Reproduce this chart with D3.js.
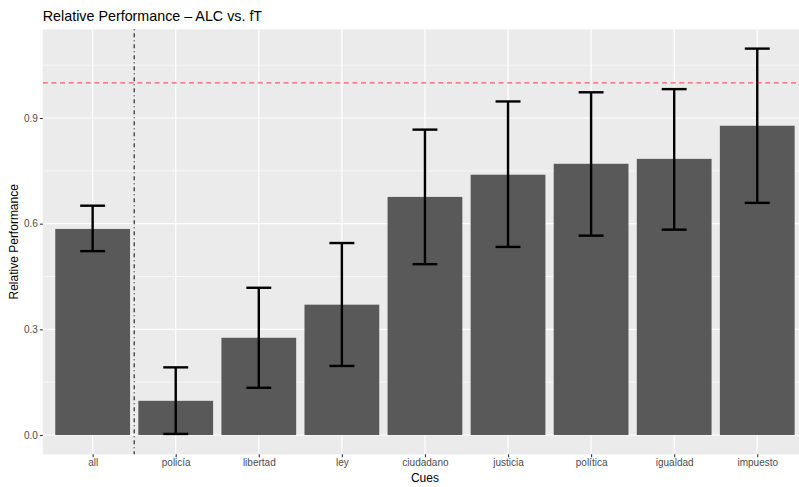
<!DOCTYPE html>
<html>
<head>
<meta charset="utf-8">
<script src="https://cdn.jsdelivr.net/npm/d3@7"></script>
<style>
  html, body { margin: 0; padding: 0; background: #fff; }
  svg { display: block; font-family: "Liberation Sans", Arial, sans-serif; }
</style>
</head>
<body>
<svg id="chart" width="799" height="487"></svg>
<script>
// Cue categories, in plotting order
const cues = ["all", "policía", "libertad", "ley", "ciudadano", "justicia", "política", "igualdad", "impuesto"];
// Mean relative performance per cue
const performance = [0.585, 0.097, 0.276, 0.370, 0.676, 0.739, 0.770, 0.784, 0.878];
// Error bar bounds
const lower = [0.522, 0.003, 0.134, 0.196, 0.485, 0.534, 0.566, 0.583, 0.659];
const upper = [0.651, 0.192, 0.418, 0.545, 0.867, 0.947, 0.973, 0.982, 1.097];
// Reference level and y-axis ticks
const referenceLevel = 1.0;
const yTicks = [0.0, 0.3, 0.6, 0.9];
const yMinorTicks = [0.15, 0.45, 0.75, 1.05];

const rows = cues.map((c, i) => ({ cue: c, value: performance[i], lo: lower[i], hi: upper[i] }));

const svg = d3.select("#chart");
const panel = { left: 42.8, top: 29.3, width: 764.3, height: 425 };

// y scale with 5% expansion on the data range
const yMaxData = d3.max(upper);
const yMinData = 0;
const pad = (yMaxData - yMinData) * 0.05;
const y = d3.scaleLinear()
  .domain([yMinData - pad, yMaxData + pad])
  .range([panel.top + panel.height, panel.top]);

const x = d3.scalePoint()
  .domain(cues)
  .range([panel.left, panel.left + panel.width])
  .padding(0.6);
const step = x.step();
const barW = step * 0.9;
const capW = step * 0.3;

// Panel background
svg.append("rect")
  .attr("x", panel.left).attr("y", panel.top)
  .attr("width", panel.width).attr("height", panel.height)
  .attr("fill", "#EBEBEB");

const grid = svg.append("g");
grid.selectAll("line.minor").data(yMinorTicks).join("line")
  .attr("x1", panel.left).attr("x2", panel.left + panel.width)
  .attr("y1", d => y(d)).attr("y2", d => y(d))
  .attr("stroke", "#fff").attr("stroke-width", 0.6);
grid.selectAll("line.major").data(yTicks).join("line")
  .attr("x1", panel.left).attr("x2", panel.left + panel.width)
  .attr("y1", d => y(d)).attr("y2", d => y(d))
  .attr("stroke", "#fff").attr("stroke-width", 1.2);
grid.selectAll("line.vert").data(cues).join("line")
  .attr("x1", d => x(d)).attr("x2", d => x(d))
  .attr("y1", panel.top).attr("y2", panel.top + panel.height)
  .attr("stroke", "#fff").attr("stroke-width", 1.2);

// Bars
svg.append("g").selectAll("rect").data(rows).join("rect")
  .attr("x", d => x(d.cue) - barW / 2)
  .attr("width", barW)
  .attr("y", d => y(d.value))
  .attr("height", d => y(0) - y(d.value))
  .attr("fill", "#595959");

// Error bars
const eb = svg.append("g").attr("stroke", "#000").attr("stroke-width", 2.4).attr("fill", "none");
rows.forEach(d => {
  const cx = x(d.cue);
  eb.append("line").attr("x1", cx).attr("x2", cx).attr("y1", y(d.lo)).attr("y2", y(d.hi));
  eb.append("line").attr("x1", cx - capW / 2).attr("x2", cx + capW / 2).attr("y1", y(d.hi)).attr("y2", y(d.hi));
  eb.append("line").attr("x1", cx - capW / 2).attr("x2", cx + capW / 2).attr("y1", y(d.lo)).attr("y2", y(d.lo));
});

// Reference line at 1.0
svg.append("line")
  .attr("x1", panel.left).attr("x2", panel.left + panel.width)
  .attr("y1", y(referenceLevel)).attr("y2", y(referenceLevel))
  .attr("stroke", "rgba(255,0,0,0.6)").attr("stroke-width", 1.3)
  .attr("stroke-dasharray", "5,3.6");

// Divider between the overall cue and the individual cues
const divX = (x(cues[0]) + x(cues[1])) / 2;
svg.append("line")
  .attr("x1", divX).attr("x2", divX)
  .attr("y1", panel.top).attr("y2", panel.top + panel.height)
  .attr("stroke", "#000").attr("stroke-width", 1)
  .attr("stroke-dasharray", "1,3,4,3");

// Y axis
const yAxis = svg.append("g")
  .attr("transform", `translate(${panel.left},0)`)
  .call(d3.axisLeft(y).tickValues(yTicks).tickFormat(d3.format(".1f")).tickSize(3).tickPadding(2));
yAxis.select(".domain").remove();
yAxis.selectAll(".tick line").attr("stroke", "#333").attr("stroke-width", 1.1);
yAxis.selectAll(".tick text").attr("fill", "#4D4D4D").attr("font-size", "10px")
  .attr("font-family", "Liberation Sans, Arial, sans-serif");

// X axis
const xAxis = svg.append("g")
  .attr("transform", `translate(0,${panel.top + panel.height})`)
  .call(d3.axisBottom(x).tickSize(3).tickPadding(2));
xAxis.select(".domain").remove();
xAxis.selectAll(".tick line").attr("stroke", "#333").attr("stroke-width", 1.1);
xAxis.selectAll(".tick text").attr("fill", "#4D4D4D").attr("font-size", "10px")
  .attr("font-family", "Liberation Sans, Arial, sans-serif");

// Titles
svg.append("text")
  .attr("x", panel.left).attr("y", 20.5)
  .attr("font-size", "14.3px").attr("fill", "#000")
  .text("Relative Performance – ALC vs. fT");

svg.append("text")
  .attr("x", panel.left + panel.width / 2).attr("y", 481.5)
  .attr("text-anchor", "middle").attr("font-size", "12px").attr("fill", "#000")
  .text("Cues");

svg.append("text")
  .attr("transform", `translate(17.5,${panel.top + panel.height / 2}) rotate(-90)`)
  .attr("text-anchor", "middle").attr("font-size", "12px").attr("fill", "#000")
  .text("Relative Performance");
</script>
</body>
</html>
